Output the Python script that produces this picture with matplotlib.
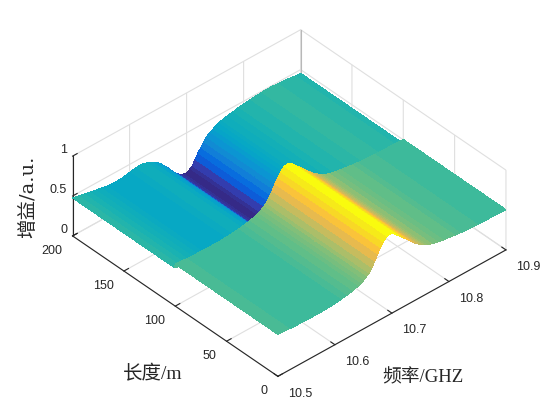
import numpy as np
import matplotlib
matplotlib.use("Agg")
import matplotlib.pyplot as plt
from matplotlib.colors import LinearSegmentedColormap

# matlab parula, every 4th row
PARULA = [
    (0.2081, 0.1663, 0.5292), (0.1959, 0.2645, 0.7279), (0.0117, 0.3875, 0.8820),
    (0.0498, 0.4586, 0.8641), (0.0793, 0.5200, 0.8312), (0.0343, 0.5966, 0.8199),
    (0.0228, 0.6535, 0.7768), (0.0843, 0.6928, 0.7062), (0.2178, 0.7250, 0.6193),
    (0.3953, 0.7459, 0.5244), (0.5709, 0.7485, 0.4494), (0.7184, 0.7411, 0.3905),
    (0.8507, 0.7299, 0.3360), (0.9739, 0.7314, 0.2666), (0.9880, 0.8066, 0.1794),
    (0.9589, 0.8949, 0.1132), (0.9763, 0.9831, 0.0538),
]

freq = [10.50, 10.51, 10.52, 10.53, 10.54, 10.55, 10.56, 10.57, 10.58, 10.59,
        10.60, 10.61, 10.62, 10.63,
        10.64, 10.645, 10.65, 10.655, 10.66, 10.665, 10.67, 10.675, 10.68, 10.685,
        10.69, 10.695, 10.70, 10.705, 10.71, 10.715, 10.72, 10.725, 10.73, 10.735,
        10.74, 10.745, 10.75, 10.755, 10.76,
        10.77, 10.78, 10.79, 10.80, 10.81, 10.82, 10.83, 10.84, 10.85, 10.86,
        10.87, 10.88, 10.89, 10.90]

# gain along frequency for the first and second half of the length
gain_short = [0.525, 0.52, 0.515, 0.51, 0.508, 0.505, 0.505, 0.505, 0.505, 0.51,
              0.515, 0.525, 0.535, 0.55,
              0.57, 0.585, 0.605, 0.63, 0.66, 0.71, 0.77, 0.84, 0.90, 0.95,
              0.99, 1.0, 1.0, 0.97, 0.935, 0.90, 0.865, 0.83, 0.79, 0.755,
              0.72, 0.69, 0.665, 0.64, 0.62,
              0.59, 0.575, 0.56, 0.55, 0.54, 0.53, 0.525, 0.52, 0.515, 0.51,
              0.51, 0.51, 0.505, 0.505]
gain_long = [0.475, 0.46, 0.445, 0.43, 0.415, 0.40, 0.385, 0.38, 0.38, 0.385,
             0.40, 0.415, 0.42, 0.40,
             0.37, 0.35, 0.325, 0.29, 0.25, 0.21, 0.165, 0.12, 0.08, 0.045,
             0.02, 0.005, 0.0, 0.02, 0.05, 0.11, 0.17, 0.22, 0.27, 0.31,
             0.34, 0.36, 0.38, 0.40, 0.41,
             0.43, 0.44, 0.455, 0.465, 0.475, 0.48, 0.485, 0.49, 0.49, 0.48,
             0.475, 0.47, 0.46, 0.455]

length_short = [0, 50, 100]
length_long = [100.5, 150, 200]

x_ticks = [10.5, 10.6, 10.7, 10.8, 10.9]
y_ticks = [0, 50, 100, 150, 200]
z_ticks = [0, 0.5, 1]

plt.rcParams["font.family"] = "Liberation Sans"
DARK = (0.15, 0.15, 0.15)
GRID = "#dfdfdf"
LABEL_FONT = ["Liberation Serif", "Noto Sans CJK SC"]

fig = plt.figure(figsize=(5.6, 4.2), dpi=100)
ax = fig.add_axes([0.0064, 0.0031, 1.0, 1.0], projection="3d", proj_type="ortho")
ax.view_init(elev=38, azim=-132)
ax.set_box_aspect((1, 1, 0.33), zoom=1.03)

length = length_short + length_long
X, Y = np.meshgrid(freq, length)
Z = np.array([gain_short] * len(length_short) + [gain_long] * len(length_long))

parula = LinearSegmentedColormap.from_list("parula", PARULA, N=64)
surf = ax.plot_surface(X, Y, Z, facecolors=parula(Z), rstride=1, cstride=1,
                       linewidth=0, antialiased=False, shade=False)
surf.set_clip_on(False)

ax.set_xlim(10.5, 10.9)
ax.set_ylim(0, 200)
ax.set_zlim(0, 1)
ax.set_xticks(x_ticks)
ax.set_yticks(y_ticks)
ax.set_zticks(z_ticks)
ax.set_zticklabels(["0", "0.5", "1"])
ax.tick_params(labelsize=9, colors=DARK)
ax.tick_params(axis="x", pad=0)
ax.tick_params(axis="y", pad=-1)
ax.tick_params(axis="z", pad=-6)
for label in ax.get_xticklabels():
    label.set_ha("left")
for label in ax.get_yticklabels():
    label.set_ha("right")
for label in ax.get_zticklabels():
    label.set_ha("right")
    label.set_va("bottom")

for axis in (ax.xaxis, ax.yaxis, ax.zaxis):
    axis.set_pane_color((1, 1, 1, 0))
    axis.pane.set_edgecolor(GRID)
    axis.line.set_color(DARK)
    axis.line.set_linewidth(0.8)
    axis._axinfo["grid"].update(color=GRID, linewidth=0.8)
    axis._axinfo["tick"].update(inward_factor=0.0, outward_factor=0.25, linewidth={True: 0.8, False: 0.5})

# darker back edge of the box
ax.plot([x_ticks[-1]] * 2, [y_ticks[-1]] * 2, [z_ticks[0], z_ticks[-1]], color="#b8b8b8", lw=0.8, zorder=0)

fig.text(153 / 560, 1 - 374 / 420, "长度/m", family=LABEL_FONT, fontsize=14,
         color=DARK, ha="center", va="center")
fig.text(423 / 560, 1 - 378 / 420, "频率/GHZ", family=LABEL_FONT, fontsize=13.5,
         color=DARK, ha="center", va="center")
fig.text(28 / 560, 1 - 197 / 420, "增益/a.u.", family=["DejaVu Serif", "Noto Sans CJK SC"], fontsize=14,
         color=DARK, ha="center", va="center", rotation=90)

fig.savefig("out.png", dpi=100)
